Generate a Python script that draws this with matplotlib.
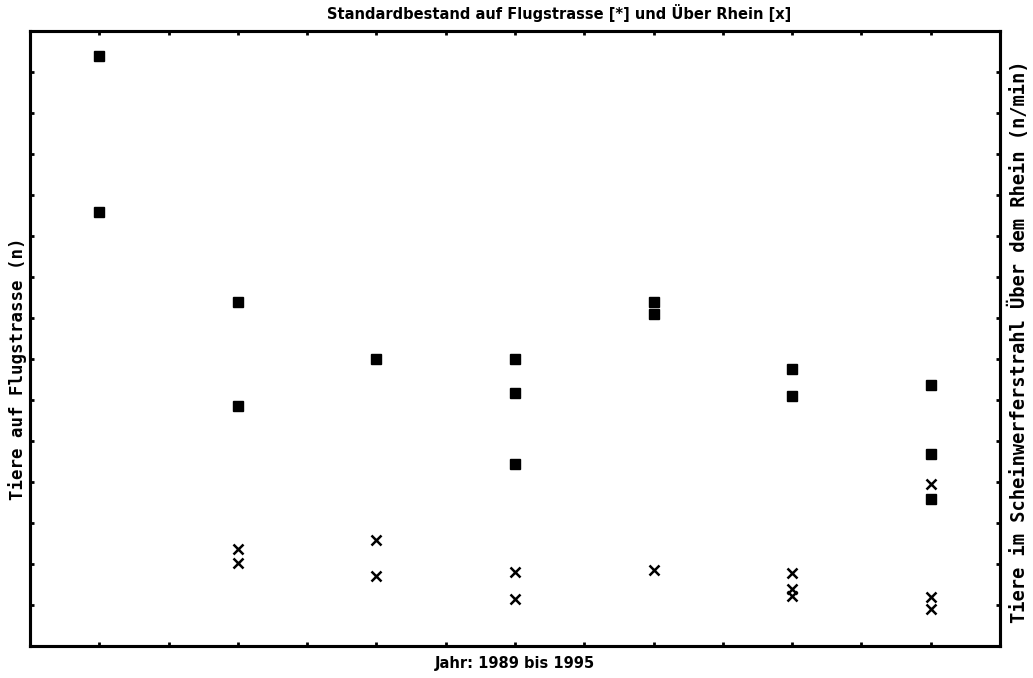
import numpy as np
import matplotlib
matplotlib.use("Agg")
import matplotlib.pyplot as plt

# Flugstrasse counts [*] in tick units
star_years = [1989, 1989, 1990, 1990, 1991, 1992, 1992, 1992,
              1993, 1993, 1994, 1994, 1995, 1995, 1995]
star_vals = [14.39, 10.59, 8.39, 5.85, 7.00, 7.00, 6.17, 4.44,
             8.39, 8.10, 6.76, 6.10, 6.37, 4.68, 3.59]

# Rhein counts [x] (n/min), same tick units
cross_years = [1990, 1990, 1991, 1991, 1992, 1992, 1993,
               1994, 1994, 1994, 1995, 1995, 1995]
cross_vals = [2.37, 2.02, 2.59, 1.71, 1.80, 1.15, 1.85,
              1.78, 1.39, 1.22, 3.95, 1.20, 0.90]

year_ticks = np.arange(1989, 1995.01, 0.5)
y_ticks = np.arange(1, 15)

fig = plt.figure(figsize=(10.33, 6.78), dpi=100)
ax = fig.add_axes([0.029, 0.0472, 0.939, 0.9071])
ax2 = ax.twinx()

ax.plot(star_years, star_vals, ls="none", marker="s", ms=6.5, color="black")
ax2.plot(cross_years, cross_vals, ls="none", marker="x", ms=7, mew=1.8, color="black")

for a in (ax, ax2):
    a.set_xlim(1988.5, 1995.5)
    a.set_ylim(0, 15)
    a.set_yticks(y_ticks)
    a.set_xticks(year_ticks)
    a.tick_params(direction="in", length=3, width=2, labelleft=False,
                  labelright=False, labelbottom=False, top=True, color="black")
    for sp in a.spines.values():
        sp.set_linewidth(2.2)

# title sits a bit right of centre in the scan
fig.text(0.541, 1 - 13 / 678, "Standardbestand auf Flugstrasse [*] und Über Rhein [x]",
         fontsize=10.5, fontweight="bold", ha="center", va="center")
ax.set_xlabel("Jahr: 1989 bis 1995", fontsize=10.5, fontweight="bold", labelpad=7)
ax.set_ylabel("Tiere auf Flugstrasse (n)", family="DejaVu Sans Mono",
              fontsize=12.5, fontweight="bold")
ax.yaxis.set_label_coords(-0.003, 0.45)
ax2.set_ylabel("Tiere im Scheinwerferstrahl Über dem Rhein (n/min)",
               family="DejaVu Sans Mono", fontsize=13.5, fontweight="bold")
ax2.yaxis.set_label_coords(1.0085, 0.495)

fig.savefig("out.png", dpi=100)
